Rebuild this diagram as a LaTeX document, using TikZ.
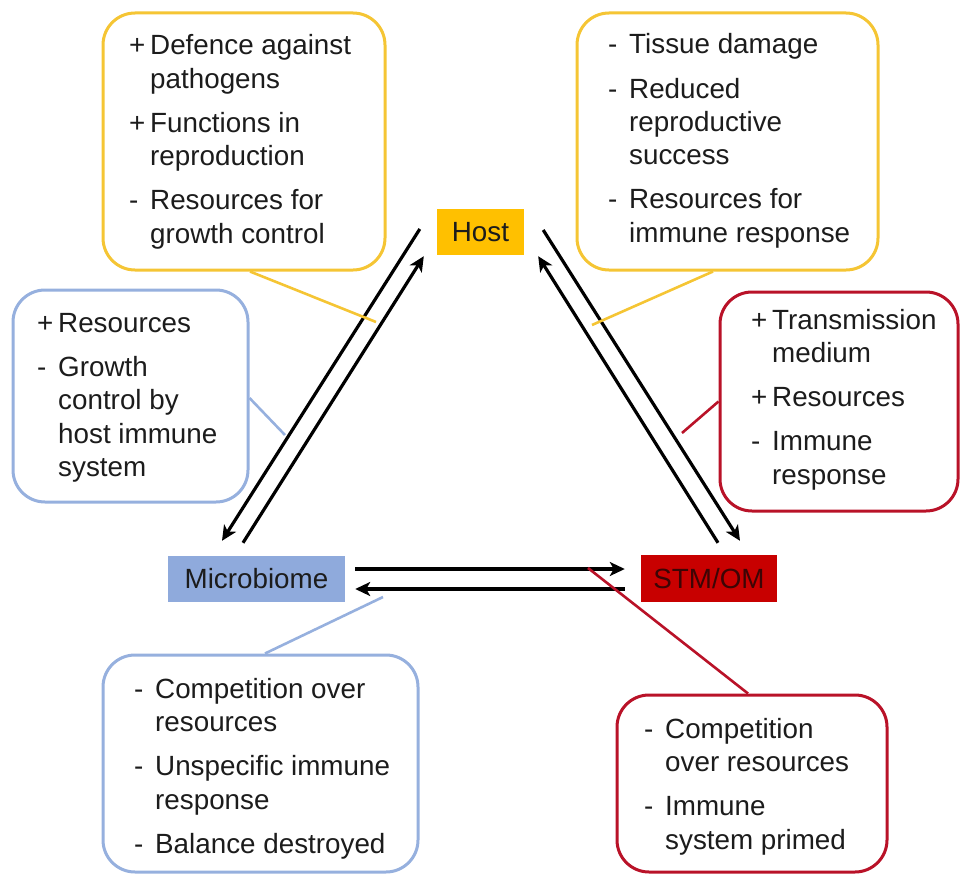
\documentclass[tikz,border=0pt]{standalone}
\usepackage{fontspec}
\setmainfont{Liberation Sans}
\usetikzlibrary{calc,arrows.meta}
\definecolor{hostY}{RGB}{255,192,0}
\definecolor{boxY}{RGB}{245,197,52}
\definecolor{microB}{RGB}{143,170,220}
\definecolor{boxB}{RGB}{150,176,222}
\definecolor{stmR}{RGB}{200,0,0}
\definecolor{boxR}{RGB}{185,18,40}
\definecolor{txt}{RGB}{28,28,28}
\definecolor{stmtxt}{RGB}{60,5,5}
\newcommand{\bl}[1]{\makebox[21pt][l]{#1}}
\newcommand{\fsz}{\fontsize{27.8}{33.5}\selectfont}
\begin{document}
\begin{tikzpicture}[x=1pt,y=-1pt,
  keynode/.style={minimum height=46pt, inner sep=0pt, font=\fsz},
  callbox/.style={line width=3pt, rounded corners=32pt, fill=white, inner sep=0pt},
  callline/.style={line width=2.6pt},
  txtblock/.style={anchor=base west, inner sep=0pt, font=\fsz, text=txt},
  link/.style={line width=3.2pt, -{Stealth[length=15pt,width=14pt,inset=4pt]}}]
\useasboundingbox (0,0) rectangle (961,875);

% key nodes
\node[keynode, fill=hostY, minimum width=87pt, text=txt] (host) at (480.5,232) {Host};
\node[keynode, fill=microB, minimum width=177pt, text=txt] (micro) at (256.5,579) {Microbiome};
\node[keynode, fill=stmR, minimum width=136pt, minimum height=47pt, text=stmtxt] (stm) at (709,578.5) {STM/OM};

% arrows
\draw[link] ($(host.west)+(-17,-3)$) -- ($(micro.north)+(-34.5,-15)$);
\draw[link] ($(micro.north)+(-13.5,-13)$) -- ($(host.south west)+(-13,1)$);
\draw[link] ($(host.east)+(19,-2)$) -- ($(stm.north)+(31,-14)$);
\draw[link] ($(stm.north)+(9,-12)$) -- ($(host.south east)+(14,1)$);
\draw[link] ($(micro.east)+(10,-10)$) -- ($(stm.west)+(-16,-9.5)$);
\draw[link] ($(stm.west)+(-16,10.5)$) -- ($(micro.east)+(10,10)$);

% callout boxes
\node[callbox, draw=boxY, minimum width=282pt, minimum height=257pt] (tlbox) at (244,141.5) {};
\node[callbox, draw=boxY, minimum width=301pt, minimum height=257pt] (trbox) at (727.5,141.5) {};
\node[callbox, draw=boxB, minimum width=235pt, minimum height=212pt] (lmbox) at (130.5,396) {};
\node[callbox, draw=boxR, minimum width=238pt, minimum height=219pt] (rmbox) at (839,401.5) {};
\node[callbox, draw=boxB, minimum width=315pt, minimum height=217pt] (blbox) at (260.5,763.5) {};
\node[callbox, draw=boxR, minimum width=270pt, minimum height=177pt] (brbox) at (752,783.5) {};

% callout end points
\coordinate (tlpt) at (376,322);
\coordinate (trpt) at (592,325);
\coordinate (lmpt) at (285,435);
\coordinate (rmpt) at (682,433);
\coordinate (blpt) at (383,597);
\coordinate (brpt) at (588,568);

\draw[callline, boxY] ($(tlbox.south)+(6,0)$) -- (tlpt);
\draw[callline, boxY] ($(trbox.south)+(-14.5,0)$) -- (trpt);
\draw[callline, boxB] ($(lmbox.east)+(0,2)$) -- (lmpt);
\draw[callline, boxR] (rmbox.west) -- (rmpt);
\draw[callline, boxB] ($(blbox.north)+(4.5,0)$) -- (blpt);
\draw[callline, boxR] ($(brbox.north)+(-4,0)$) -- (brpt);

% texts
\node[txtblock] (tltext) at (129,55) {\begin{tabular}[t]{@{}l@{}l@{}}
\bl{+} & Defence against\\ & pathogens\\[10.5pt]
\bl{+} & Functions in\\ & reproduction\\[10.5pt]
\bl{-} & Resources for\\ & growth control
\end{tabular}};
\node[txtblock] (trtext) at (608,54) {\begin{tabular}[t]{@{}l@{}l@{}}
\bl{-} & Tissue damage\\[10.5pt]
\bl{-} & Reduced\\ & reproductive\\ & success\\[10.5pt]
\bl{-} & Resources for\\ & immune response
\end{tabular}};
\node[txtblock] (lmtext) at (37,332) {\begin{tabular}[t]{@{}l@{}l@{}}
\bl{+} & Resources\\[10.5pt]
\bl{-} & Growth\\ & control by\\ & host immune\\ & system
\end{tabular}};
\node[txtblock] (rmtext) at (751,329) {\begin{tabular}[t]{@{}l@{}l@{}}
\bl{+} & Transmission\\ & medium\\[10.5pt]
\bl{+} & Resources\\[10.5pt]
\bl{-} & Immune\\ & response
\end{tabular}};
\node[txtblock] (bltext) at (134,698) {\begin{tabular}[t]{@{}l@{}l@{}}
\bl{-} & Competition over\\ & resources\\[10.5pt]
\bl{-} & Unspecific immune\\ & response\\[10.5pt]
\bl{-} & Balance destroyed
\end{tabular}};
\node[txtblock] (brtext) at (644,738) {\begin{tabular}[t]{@{}l@{}l@{}}
\bl{-} & Competition\\ & over resources\\[10.5pt]
\bl{-} & Immune\\ & system primed
\end{tabular}};
\end{tikzpicture}
\end{document}
